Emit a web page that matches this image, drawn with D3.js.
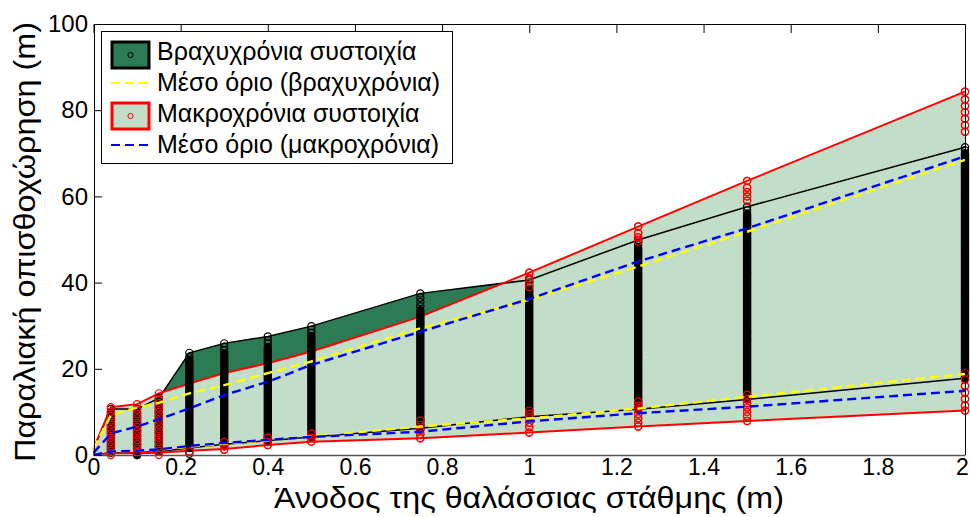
<!DOCTYPE html>
<html>
<head>
<meta charset="utf-8">
<script src="https://cdn.jsdelivr.net/npm/d3@7"></script>
<style>
  body { margin: 0; background: #fff; }
  text { font-family: "Liberation Sans", Arial, sans-serif; }
</style>
</head>
<body>
<svg id="chart" width="970" height="517"></svg>
<script>
// sea level rise steps (m) for the envelope lines
const envX = [0, 0.04, 0.1, 0.15, 0.22, 0.3, 0.4, 0.5, 0.75, 1, 1.25, 1.5, 2];
// short-term ensemble: upper / lower envelope (m)
const shortMax = [1.5, 10.7, 10.7, 13.2, 23.7, 25.9, 27.5, 29.9, 37.5, 40.6, 49.9, 57.6, 71.4];
const shortMin = [0, 0.5, 0.6, 0.8, 1.6, 2.5, 3.3, 4.2, 6.2, 8.9, 10.6, 12.9, 17.8];
// long-term ensemble: upper / lower envelope (m)
const longMax = [1.5, 11.1, 11.8, 14.3, 16.6, 19, 21.3, 24, 32.1, 42.3, 53, 63.6, 84.3];
const longMin = [0, 0.4, 0.4, 0.5, 1, 1.4, 2.3, 3.1, 3.9, 5.2, 6.6, 7.9, 10.3];
// mean limits
const shortMeanHi = [1.5, 9.3, 11, 12.1, 14.3, 16.2, 19, 21.7, 29.4, 36, 43.7, 51.8, 68.5];
const shortMeanLo = [0, 0.8, 1, 1.2, 1.9, 2.6, 3.4, 4.3, 6.6, 8.5, 10.8, 13.5, 18.8];
const longMeanHi = [0.5, 5, 6.6, 8.3, 10.8, 13.9, 17, 20.9, 28.6, 36.2, 44.9, 52.6, 69.3];
const longMeanLo = [0, 0.8, 1, 1.3, 2.1, 2.8, 3.5, 4.2, 5.4, 7.8, 9.7, 11.2, 14.9];

// scenario columns
const colX = [0.04, 0.1, 0.15, 0.22, 0.3, 0.4, 0.5, 0.75, 1, 1.25, 1.5, 2];
// short-term: densely packed part of each column, plus the loose circles
const shortBandLo = [0.5, 0, 0.8, 1.6, 2.5, 3.3, 4.2, 6.2, 8.9, 10.6, 12.9, 17.8];
const shortBandHi = [10, 10, 12.5, 22, 23.5, 25, 27.5, 33.6, 38.5, 48, 56, 70];
const shortLoose = [
  [10.7], [0, 10.7], [13.2], [0.3, 22.8, 23.7], [24.3, 25.1, 25.9], [25.8, 26.6, 27.5],
  [28.3, 29.1, 29.9], [34.5, 35.5, 36.5, 37.5], [39.3, 40, 40.6], [48.7, 49.3, 49.9],
  [56.8, 57.6], [70.7, 71.4]
];
// long-term: circles visible in each column
const longPts = [
  [0, 1, 2, 3, 4, 5, 6, 7, 8, 9, 10, 11.1],
  [0.7, 1.5, 2.5, 3.5, 4.5, 5.5, 6.5, 7.5, 8.5, 9.5, 10.5, 11.8],
  [0, 1, 2, 3, 4, 5, 6, 7, 8, 9, 10, 11, 12, 13, 14.3],
  [0.8, 16.6],
  [1.2, 2, 3, 19],
  [2.3, 3, 4, 21.3],
  [3.1, 4, 5, 24],
  [3.9, 4.8, 5.8, 7, 8, 29.8, 30.8, 32.1],
  [5.2, 6.5, 7.5, 8.5, 9.5, 10.3, 39, 40, 41, 42.3],
  [6.6, 7.5, 8.5, 9.5, 10.5, 11.5, 12.5, 23.2, 49.5, 50.5, 51.5, 53],
  [7.9, 9, 10, 11, 12, 13, 14, 26.7, 28.6, 42.2, 59, 60, 61, 62, 63.6],
  [10.3, 11.5, 13, 14.5, 16, 17.5, 19, 23.7, 36, 49.5, 58.4, 65.3, 75, 76.5, 78, 79.5, 81, 82.5, 84.3]
];

const xTicks = [0, 0.2, 0.4, 0.6, 0.8, 1, 1.2, 1.4, 1.6, 1.8, 2];
const yTicks = [0, 20, 40, 60, 80, 100];
const legendLabels = ["Βραχυχρόνια συστοιχία", "Μέσο όριο (βραχυχρόνια)",
                      "Μακροχρόνια συστοιχία", "Μέσο όριο (μακροχρόνια)"];

const DARK = "#2c7b54", LIGHT = "#c2ddc8";

const svg = d3.select("#chart");
const x = d3.scaleLinear().domain([0, 2]).range([93.5, 965]);
const y = d3.scaleLinear().domain([0, 100]).range([455, 24]);

const pts = arr => arr.map((v, i) => [envX[i], v]);
const line = d3.line().x(d => x(d[0])).y(d => y(d[1]));
const band = (lo, hi) => d3.area().x((d, i) => x(envX[i])).y0((d, i) => y(lo[i])).y1((d, i) => y(hi[i]))(envX);

// filled ensembles
svg.append("path").attr("d", band(shortMin, shortMax)).attr("fill", DARK);
svg.append("path").attr("d", band(longMin, longMax)).attr("fill", LIGHT);

// envelope lines
[[shortMax, "#000", 1.5], [shortMin, "#000", 1.5], [longMax, "#f00", 2], [longMin, "#f00", 2]].forEach(([arr, c, w]) => {
  svg.append("path").attr("d", line(pts(arr))).attr("fill", "none").attr("stroke", c).attr("stroke-width", w);
});

const circ = (g, cx, vals, color) => g.selectAll(null).data(vals).join("circle")
  .attr("cx", cx).attr("cy", d => y(d)).attr("r", 3.6)
  .attr("fill", "none").attr("stroke", color).attr("stroke-width", 1.2);

const cols = svg.append("g");
colX.forEach((cx, i) => {
  const g = cols.append("g");
  const shortFirst = cx < 0.2;
  const drawShort = () => {
    g.append("line").attr("x1", x(cx)).attr("x2", x(cx))
      .attr("y1", y(shortBandLo[i])).attr("y2", y(shortBandHi[i]))
      .attr("stroke", "#000").attr("stroke-width", 8.4).attr("stroke-linecap", "round");
    circ(g, x(cx), shortLoose[i], "#000");
  };
  if (shortFirst) { drawShort(); circ(g, x(cx), longPts[i], "#f00"); }
  else { circ(g, x(cx), longPts[i], "#f00"); drawShort(); circ(g, x(cx), longPts[i].filter(v => v < shortBandLo[i] + 2 || v > shortBandHi[i]), "#f00"); }
});

// mean limits (dashed)
[[shortMeanHi, "#ff0"], [shortMeanLo, "#ff0"], [longMeanHi, "#00f"], [longMeanLo, "#00f"]].forEach(([arr, c]) => {
  svg.append("path").attr("d", line(pts(arr))).attr("fill", "none").attr("stroke", c)
    .attr("stroke-width", 2.4).attr("stroke-dasharray", "9,5");
});

// axes
const axB = svg.append("g").attr("transform", "translate(0,455)")
  .call(d3.axisBottom(x).tickValues(xTicks).tickFormat(d3.format("~g")).tickSizeInner(0).tickSizeOuter(0).tickPadding(4));
const axL = svg.append("g").attr("transform", "translate(94,0)")
  .call(d3.axisLeft(y).tickValues(yTicks).tickSizeInner(-8).tickSizeOuter(0).tickPadding(6));
const axT = svg.append("g").attr("transform", "translate(0,24)")
  .call(d3.axisTop(x).tickValues(xTicks).tickFormat("").tickSizeInner(-9).tickSizeOuter(0));
svg.append("line").attr("x1", 965.5).attr("x2", 965.5).attr("y1", 24).attr("y2", 455).attr("stroke", "#000");
[axB, axL, axT].forEach(a => {
  a.selectAll("path, line").attr("stroke", "#000");
  a.selectAll("text").attr("fill", "#000").style("font-size", "23px");
});
axL.selectAll("text").style("font-size", "24px");
axB.select(".domain").attr("stroke", "#555").attr("stroke-width", 1.5);
// last label sits on the right edge of the frame
axB.selectAll(".tick").filter(d => d === 2).select("text").attr("dx", -3);

// axis titles
svg.append("text").attr("x", 529).attr("y", 508).attr("text-anchor", "middle")
  .style("font-size", "29px").attr("textLength", 510).attr("lengthAdjust", "spacingAndGlyphs")
  .text("Άνοδος της θαλάσσιας στάθμης (m)");
svg.append("text").attr("transform", "translate(35,242) rotate(-90)").attr("text-anchor", "middle")
  .style("font-size", "30px").attr("textLength", 440).attr("lengthAdjust", "spacingAndGlyphs")
  .text("Παραλιακή οπισθοχώρηση (m)");

// legend
const lg = svg.append("g");
lg.append("rect").attr("x", 101.5).attr("y", 31.5).attr("width", 351).attr("height", 132)
  .attr("fill", "#fff").attr("stroke", "#000");
const rowY = [55, 83, 116, 145];
const baseY = [60, 91, 122, 153];
const kinds = [
  {type: "patch", fill: DARK, stroke: "#000", mk: "#000"},
  {type: "dash", stroke: "#ff0"},
  {type: "patch", fill: LIGHT, stroke: "#f00", mk: "#f00"},
  {type: "dash", stroke: "#00f"}
];
legendLabels.forEach((lab, i) => {
  const k = kinds[i], cy = rowY[i];
  if (k.type === "patch") {
    lg.append("rect").attr("x", 112).attr("y", cy - 13).attr("width", 37).attr("height", 26)
      .attr("fill", k.fill).attr("stroke", k.stroke).attr("stroke-width", 3);
    lg.append("circle").attr("cx", 130.5).attr("cy", cy).attr("r", 2.6)
      .attr("fill", "none").attr("stroke", k.mk).attr("stroke-width", 1);
  } else {
    lg.append("line").attr("x1", 111).attr("x2", 150).attr("y1", cy).attr("y2", cy)
      .attr("stroke", k.stroke).attr("stroke-width", 2).attr("stroke-dasharray", "9,5");
  }
  lg.append("text").attr("x", 157).attr("y", baseY[i]).style("font-size", "25px").text(lab);
});
</script>
</body>
</html>
